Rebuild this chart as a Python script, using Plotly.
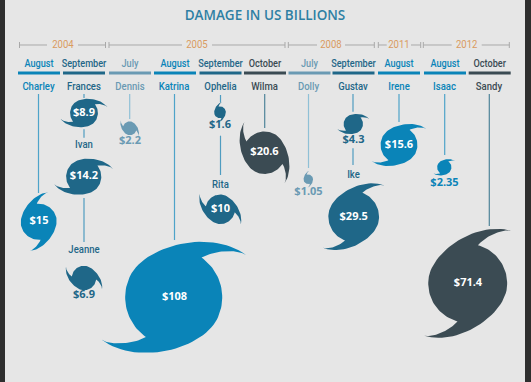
import numpy as np
import plotly.graph_objects as go

# ---- data ----
title = "DAMAGE IN US BILLIONS"
years = ["2004", "2005", "2008", "2011", "2012"]
months = ["August", "September", "July", "August", "September", "October",
          "July", "September", "August", "August", "October"]
storms = ["Charley", "Frances", "Ivan", "Jeanne", "Dennis", "Katrina", "Ophelia", "Rita",
          "Wilma", "Dolly", "Gustav", "Ike", "Irene", "Isaac", "Sandy"]
storm_month = [0, 1, 1, 1, 2, 3, 4, 4, 5, 6, 7, 7, 8, 9, 10]
damage = [15, 8.9, 14.2, 6.9, 2.2, 108, 1.6, 10, 20.6, 1.05, 4.3, 29.5, 15.6, 2.35, 71.4]
damage_labels = ["$15", "$8.9", "$14.2", "$6.9", "$2.2", "$108", "$1.6", "$10", "$20.6",
                 "$1.05", "$4.3", "$29.5", "$15.6", "$2.35", "$71.4"]

# ---- layout of the poster (pixel axes) ----
month_x = [39, 84, 130, 175, 220.5, 265, 309.5, 353.5, 399, 445, 489.7]
month_half = 21
year_x = [63, 197, 331, 399, 466.7]
year_spans = [(19.5, 47), (78, 105.5), (109, 182), (212, 285), (288.3, 317), (345, 374.3),
              (378.3, 386.7), (411, 420.7), (423.3, 451.7), (481.7, 509.3)]
center_x = [38.7, 84, 83.7, 84, 129.7, 173.7, 220, 220.3, 264.5, 308.3, 353.3, 353.7, 399, 444.3, 467.7]
center_y = [221.7, 113, 176.7, 278, 128.3, 297.3, 112.3, 209.3, 152.7, 179.3, 124, 216.7, 145, 167.3, 283.3]
rotation = [-41, 16, 16, -118, -107, 0, -50, -113, -93, -55, 13, -15, 0, 0, -20]
name_x = [38.5, 84, 84, 84, 130, 174, 220.5, 220.5, 264.5, 308.5, 353, 353.5, 399, 444.5, 489]
name_y = [87, 87, 145, 250, 87, 87, 87, 185, 87, 87, 87, 175, 87, 87, 87]
label_x = [39, 84, 84, 84, 130, 174.5, 220, 220.5, 264.5, 308.5, 353.5, 353.7, 399, 444.5, 468]
label_y = [221.5, 113, 176.5, 295, 141.7, 297.5, 125.3, 209.5, 152.7, 192.7, 140.7, 217, 145, 183, 283.5]
outside = [False, False, False, True, True, False, True, False, False, True, True, False, False, True, False]
connectors = [(38.5, 94, 193, 0), (84, 94, 98, 1), (84, 129.3, 137.7, 1), (84, 198, 242, 1),
              (129.7, 94, 119, 2), (174.5, 94, 240, 3), (220.5, 95, 102.5, 4), (220.5, 135.7, 175, 4),
              (264.7, 94, 128, 5), (308.5, 94, 168, 6), (353, 94, 111.7, 7), (353, 148.3, 165, 7),
              (399, 94, 122, 8), (444.7, 94, 155, 9), (489.3, 94, 226, 10)]

MONTH_COLORS = {"August": "#0a84b8", "September": "#1f6788", "July": "#6a9ab3", "October": "#3b4b53"}
LINE_COLORS = {"August": "#4ea3c9", "September": "#4f9cc0", "July": "#8fc0d6", "October": "#4f8499"}
GREY = "#a9a9a9"
ORANGE = "#d99a60"
BG = "#e6e6e6"
DARK = "#2e2e2e"
NARROW = "Roboto"
SCALE = 4.67  # px of radius per sqrt(billion)


def bezier(p0, c1, c2, p1, n=30):
    t = np.linspace(0, 1, n)[:, None]
    p0, c1, c2, p1 = map(np.array, (p0, c1, c2, p1))
    return (1 - t) ** 3 * p0 + 3 * (1 - t) ** 2 * t * c1 + 3 * (1 - t) * t ** 2 * c2 + t ** 3 * p1


def half_glyph():
    """Outline of one half of the storm symbol on a unit circle (y down)."""
    tip = (1.49, -0.87)
    a_notch, a_out = np.radians(-55), np.radians(-150)
    notch = (np.cos(a_notch), np.sin(a_notch))
    start = (np.cos(a_out), np.sin(a_out))
    outer = bezier(start, (-0.5, -1.1), (0.8, -1.4), tip)
    inner = bezier(tip, (1.33, -0.99), (0.86, -0.98), notch)
    ang = np.linspace(a_notch, np.radians(30), 30)
    arc = np.column_stack([np.cos(ang), np.sin(ang)])
    return np.vstack([outer, inner, arc])


half = half_glyph()
GLYPH = np.vstack([half, -half])

fig = go.Figure()

# year brackets
for a, b in year_spans:
    fig.add_trace(go.Scatter(x=[a, b], y=[45, 45], mode="lines", line=dict(color=GREY, width=1), hoverinfo="skip"))
    for tick_x in (a, b):
        if tick_x in (19.5, 105.5, 109, 285, 288.3, 374.3, 378.3, 420.7, 423.3, 509.3):
            fig.add_trace(go.Scatter(x=[tick_x, tick_x], y=[42, 48], mode="lines",
                                     line=dict(color=GREY, width=1), hoverinfo="skip"))

# month bars
for m, cx in zip(months, month_x):
    fig.add_trace(go.Scatter(x=[cx - month_half, cx + month_half], y=[73, 73], mode="lines",
                             line=dict(color=MONTH_COLORS[m], width=3), hoverinfo="skip"))

# connectors
for x, y0, y1, mi in connectors:
    fig.add_trace(go.Scatter(x=[x, x], y=[y0, y1], mode="lines",
                             line=dict(color=LINE_COLORS[months[mi]], width=1.2), hoverinfo="skip"))

# storms
for s, v, mi, cx, cy, rot in zip(storms, damage, storm_month, center_x, center_y, rotation):
    r = SCALE * np.sqrt(v)
    th = np.radians(rot)
    gx = GLYPH[:, 0] * np.cos(th) - GLYPH[:, 1] * np.sin(th)
    gy = GLYPH[:, 0] * np.sin(th) + GLYPH[:, 1] * np.cos(th)
    fig.add_trace(go.Scatter(x=cx + r * gx, y=cy + r * gy, mode="lines", fill="toself",
                             fillcolor=MONTH_COLORS[months[mi]], line=dict(width=0),
                             name=s, hoverinfo="name"))

# texts
fig.add_trace(go.Scatter(x=year_x, y=[45] * len(years), text=years, mode="text", hoverinfo="skip",
                         textfont=dict(family=NARROW, size=11.5, color=ORANGE)))
fig.add_trace(go.Scatter(x=month_x, y=[64] * len(months), text=months, mode="text", hoverinfo="skip",
                         textfont=dict(family=NARROW, size=11, weight=500, color=[MONTH_COLORS[m] for m in months])))
fig.add_trace(go.Scatter(x=name_x, y=name_y, text=storms, mode="text", hoverinfo="skip",
                         textfont=dict(family=NARROW, size=11.5, weight=500,
                                       color=[MONTH_COLORS[months[m]] for m in storm_month])))
fig.add_trace(go.Scatter(x=label_x, y=label_y, text=damage_labels, mode="text", hoverinfo="skip",
                         textfont=dict(family="Open Sans", size=11, weight=700,
                                       color=[MONTH_COLORS[months[m]] if o else "#ffffff"
                                              for m, o in zip(storm_month, outside)])))
fig.add_trace(go.Scatter(x=[265], y=[17], text=[title], mode="text", hoverinfo="skip",
                         textfont=dict(family="Open Sans", size=13.5, weight=600, color="#2e7fa3")))

fig.update_layout(
    width=531, height=382, margin=dict(l=0, r=0, t=0, b=0), showlegend=False,
    paper_bgcolor=BG, plot_bgcolor=BG,
    xaxis=dict(range=[0, 531], visible=False, fixedrange=True),
    yaxis=dict(range=[382, 0], visible=False, fixedrange=True),
    shapes=[
        dict(type="rect", xref="x", yref="y", x0=0, x1=5, y0=0, y1=382, fillcolor=DARK, line_width=0),
        dict(type="rect", xref="x", yref="y", x0=525, x1=531, y0=0, y1=382, fillcolor=DARK, line_width=0),
    ],
)

# page reset, and the tall narrow lettering of the poster
POST = """
document.body.style.margin = '0';
document.documentElement.style.overflow = 'hidden';
document.querySelectorAll('g.textpoint text').forEach(function (t) {
  if ((t.style.fontFamily || '').indexOf('Roboto') >= 0) {
    t.setAttribute('lengthAdjust', 'spacingAndGlyphs');
    t.setAttribute('textLength', (t.getComputedTextLength() * 0.83).toFixed(1));
  }
});
"""
fig.write_html("out.html", config={"displayModeBar": False}, post_script=POST)
